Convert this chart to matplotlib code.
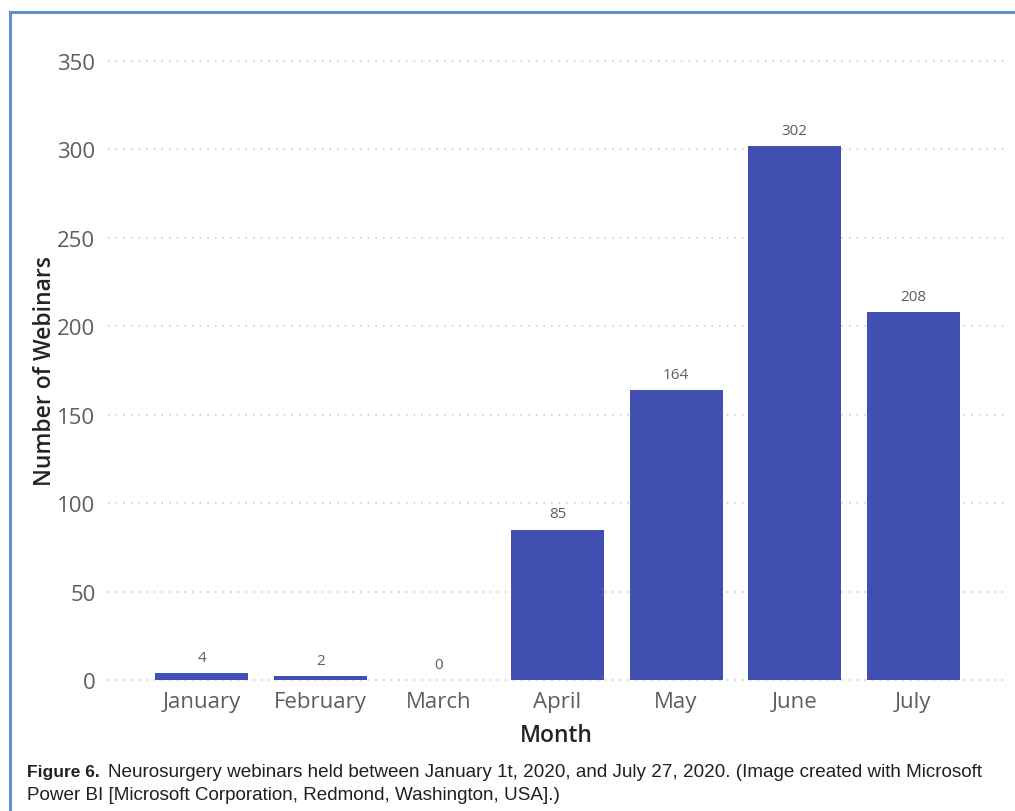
import matplotlib
matplotlib.use("Agg")
import matplotlib.pyplot as plt
from matplotlib.lines import Line2D

months = ["January", "February", "March", "April", "May", "June", "July"]
webinars = [4, 2, 0, 85, 164, 302, 208]
y_ticks = [0, 50, 100, 150, 200, 250, 300, 350]

W, H = 1015, 812
fig = plt.figure(figsize=(W / 100, H / 100), dpi=100)
fig.patch.set_facecolor("white")

ax = fig.add_axes([108 / W, 1 - 681 / H, (1005 - 108) / W, (681 - 62) / H])
ax.set_facecolor("white")

x = list(range(len(months)))
ax.bar(x, webinars, width=0.785, color="#4150B0", zorder=3)
ax.set_xlim(-0.793, 6.776)
ax.set_ylim(0, 350)

ax.set_yticks(y_ticks)
ax.set_yticklabels([str(t) for t in y_ticks])
ax.set_xticks(x)
ax.set_xticklabels(months)
for sp in ax.spines.values():
    sp.set_visible(False)
ax.tick_params(axis="both", length=0, labelcolor="#605E5C", labelsize=16)
ax.tick_params(axis="y", pad=9)
ax.tick_params(axis="x", pad=8)
for lab in ax.get_xticklabels() + ax.get_yticklabels():
    lab.set_family("Open Sans")

ax.yaxis.grid(True, linestyle=(0, (1, 4)), color="#c8c8c8", linewidth=1.1, zorder=0)
for gl in ax.get_ygridlines():
    gl.set_clip_on(False)

for xi, v in zip(x, webinars):
    ax.annotate(str(v), (xi, v), xytext=(0, 6), textcoords="offset points",
                ha="center", va="bottom", fontsize=11, color="#605E5C",
                family="Open Sans")

ax.set_xlabel("Month", fontsize=16.5, color="#252423", family="Open Sans",
              fontweight="semibold", labelpad=8)
ax.set_ylabel("Number of Webinars", fontsize=16.5, color="#252423", family="Open Sans",
              fontweight="semibold", labelpad=0)

# caption
cap1 = fig.text(27 / W, 1 - 773 / H, "Figure 6.", fontsize=12.5, fontweight="bold",
                family="Liberation Sans", color="#231f20", va="center", ha="left")
cap_rest = matplotlib.text.Annotation(
    "Neurosurgery webinars held between January 1t, 2020, and July 27, 2020. (Image created with Microsoft",
    xy=(1, 0.5), xycoords=cap1, xytext=(6, 0), textcoords="offset points",
    fontsize=13.6, family="Liberation Sans", color="#231f20", va="center", ha="left")
cap_rest.set_figure(fig)
fig.texts.append(cap_rest)
fig.text(27 / W, 1 - 796 / H, "Power BI [Microsoft Corporation, Redmond, Washington, USA].)",
         fontsize=13.6, family="Liberation Sans", color="#231f20", va="center", ha="left")

# blue border
frame_c = "#5b93d0"
fig.add_artist(Line2D([9.5 / W, 1], [1 - 12.5 / H, 1 - 12.5 / H], color=frame_c, lw=2.2,
                      transform=fig.transFigure))
fig.add_artist(Line2D([9.5 / W, 9.5 / W], [1 - 12.5 / H, 0], color=frame_c, lw=2.2,
                      transform=fig.transFigure))

fig.savefig("out.png", dpi=100)
